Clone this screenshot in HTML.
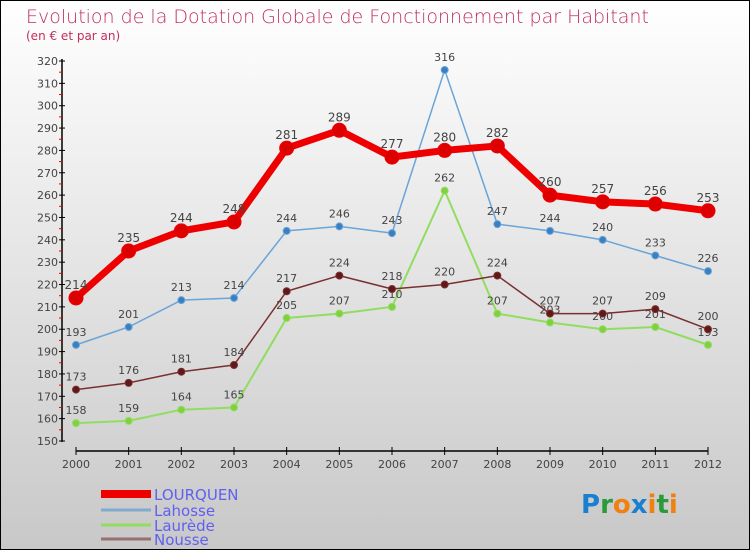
<!DOCTYPE html>
<html><head><meta charset="utf-8"><style>
body{margin:0}
#c{position:relative;width:748px;height:548px;border:1px solid #000;background:linear-gradient(#fff,#c8c8c8);font-family:"DejaVu Sans","Liberation Sans",sans-serif;overflow:hidden}
svg text{font-family:"DejaVu Sans","Liberation Sans",sans-serif}
</style></head><body>
<div id="c">
<svg id="s" width="748" height="548">
<text x="25" y="22" font-size="19" fill="#c0305a" style="font-weight:200">Evolution de la Dotation Globale de Fonctionnement par Habitant</text>
<text x="25" y="39" font-size="12" fill="#c0305a">(en € et par an)</text>
<g font-size="26" font-weight="bold">
<text x="580" y="512"><tspan fill="#1a7fd0">P</tspan><tspan fill="#2a9a3a">r</tspan><tspan fill="#f08010">o</tspan><tspan fill="#1a7fd0">x</tspan><tspan fill="#f08010">i</tspan><tspan fill="#2a9a3a">t</tspan><tspan fill="#f08010">i</tspan></text>
</g>
</svg>
</div>
<script>
const years=[2000,2001,2002,2003,2004,2005,2006,2007,2008,2009,2010,2011,2012];
const lourquen=[214,235,244,248,281,289,277,280,282,260,257,256,253];
const lahosse=[193,201,213,214,244,246,243,316,247,244,240,233,226];
const laurede=[158,159,164,165,205,207,210,262,207,203,200,201,193];
const nousse=[173,176,181,184,217,224,218,220,224,207,207,209,200];
const yTicks=[150,160,170,180,190,200,210,220,230,240,250,260,270,280,290,300,310,320];
const seriesNames=["LOURQUEN","Lahosse","Laurède","Nousse"];
const NS="http://www.w3.org/2000/svg",s=document.getElementById('s');
function X(i){return 75+i*(707-75)/(years.length-1);}
function Y(v){return 440-(v-150)*380/170;}
function el(t,a,p){const e=document.createElementNS(NS,t);for(const k in a)e.setAttribute(k,a[k]);(p||s).appendChild(e);return e;}
// axes
let ax=el('line',{x1:61,y1:58,x2:61,y2:441,stroke:'#000','stroke-width':1.5});

let bx=el('line',{x1:75,y1:450,x2:707,y2:450,stroke:'#000','stroke-width':1.5});

yTicks.forEach((v,i)=>{
 el('line',{x1:58,x2:64,y1:Y(v),y2:Y(v),stroke:'#000'});
 if(i<yTicks.length-1)el('line',{x1:58,x2:61,y1:Y(v+5),y2:Y(v+5),stroke:'#e00'});
 const t=el('text',{x:57,y:Y(v)+4,'font-size':11,'text-anchor':'end',fill:'#444'});t.textContent=v;
 
});
years.forEach((y,i)=>{
 el('line',{x1:X(i),x2:X(i),y1:446,y2:454,stroke:'#000'});
 const t=el('text',{x:X(i),y:467,'font-size':11,'text-anchor':'middle',fill:'#444'});t.textContent=y;
 
});
function series(data,col,dot,w,r,name,fs){
 const g=el('g',{});
 el('polyline',{points:data.map((v,i)=>X(i)+','+Y(v)).join(' '),fill:'none',stroke:col,'stroke-width':w,'stroke-linejoin':'round'},g);
 data.forEach((v,i)=>{
  const c=el('circle',{cx:X(i),cy:Y(v),r:r,fill:dot,stroke:col,'stroke-width':1},g);
  
  const t=el('text',{x:X(i),y:Y(v)-9,'font-size':fs,'text-anchor':'middle',fill:'#444'},g);t.textContent=v;
  
 });
}
series(laurede,'#90dd60','#80d040',2,3.5,'laurede',11);
series(nousse,'#7a3030','#601818',1.5,3.5,'nousse',11);
series(lahosse,'#6aa4d8','#3a80c0',1.5,3.5,'lahosse',11);
series(lourquen,'#ee0000','#dd0000',7,7,'lourquen',12);
// legend
const lc=['#ee0000','#80aad0','#90dd60','#987070'],lw=[8,3,3,3],ly=[493,509,524,538];
seriesNames.forEach((n,i)=>{
 const g=el('g',{});
 el('line',{x1:100,x2:150,y1:ly[i],y2:ly[i],stroke:lc[i],'stroke-width':lw[i]},g);
 const t=el('text',{x:153,y:ly[i]+6,'font-size':15,fill:'#6060f0'},g);t.textContent=n;
});
</script>
</body></html>
